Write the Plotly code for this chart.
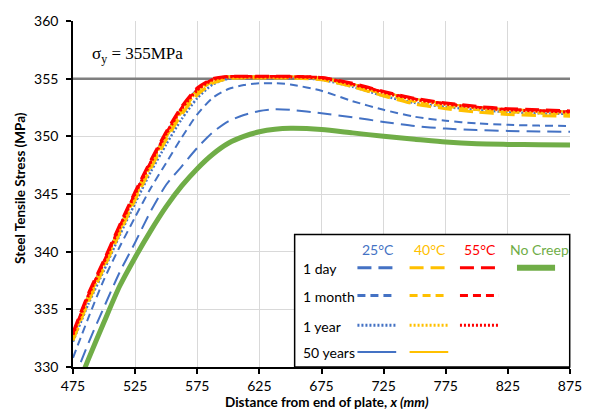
import plotly.graph_objects as go

# ---------------- data ----------------
x_mm = [475, 487.5, 500, 512.5, 525, 537.5, 550, 562.5, 575, 587.5, 600, 612.5,
        625, 637.5, 650, 675, 700, 725, 750, 775, 800, 825, 850, 875]

blue_1d = [328.7, 332.1, 335.2, 338.2, 340.8, 343.5, 345.8, 347.4, 349.0, 350.35, 351.3, 351.85,
           352.2, 352.35, 352.3, 352.0, 351.65, 351.25, 350.9, 350.67, 350.54, 350.47, 350.42, 350.4]
blue_1m = [330.8, 334.3, 337.6, 340.4, 343.0, 345.5, 347.7, 349.9, 351.9, 353.35, 354.1, 354.45,
           354.6, 354.6, 354.5, 353.95, 353.05, 352.3, 351.7, 351.35, 351.12, 351.0, 350.93, 350.9]
blue_1y = [332.2, 335.5, 338.4, 341.4, 344.2, 346.9, 349.3, 351.5, 353.3, 354.5, 355.0, 355.1,
           355.1, 355.1, 355.1, 354.9, 354.3, 353.5, 352.9, 352.55, 352.3, 352.1, 352.0, 351.95]
blue_50y = [332.9, 336.3, 339.2, 342.2, 345.1, 347.8, 350.3, 352.5, 354.1, 354.95, 355.2, 355.2,
            355.2, 355.2, 355.2, 355.1, 354.55, 353.85, 353.25, 352.85, 352.55, 352.35, 352.25, 352.15]

yellow_1d = [332.3, 335.7, 338.6, 341.6, 344.5, 347.2, 349.7, 351.9, 353.6, 354.6, 355.0, 355.05,
             355.05, 355.05, 355.05, 354.9, 354.3, 353.5, 352.8, 352.4, 352.1, 351.9, 351.8, 351.75]
yellow_1m = [332.5, 335.9, 338.8, 341.8, 344.7, 347.4, 349.9, 352.1, 353.8, 354.75, 355.1, 355.1,
             355.1, 355.1, 355.1, 355.0, 354.4, 353.65, 353.0, 352.6, 352.3, 352.1, 352.0, 351.95]
yellow_1y = [332.7, 336.1, 339.0, 342.0, 344.9, 347.6, 350.1, 352.3, 353.9, 354.85, 355.15, 355.15,
             355.15, 355.15, 355.15, 355.05, 354.5, 353.75, 353.15, 352.75, 352.45, 352.25, 352.15, 352.05]
yellow_50y = [332.8, 336.2, 339.1, 342.1, 345.0, 347.7, 350.2, 352.4, 354.0, 354.9, 355.2, 355.2,
              355.2, 355.2, 355.2, 355.1, 354.55, 353.85, 353.25, 352.85, 352.55, 352.35, 352.25, 352.15]

red_1d = [333.0, 336.4, 339.3, 342.3, 345.2, 347.9, 350.4, 352.6, 354.2, 355.0, 355.2, 355.2,
          355.2, 355.2, 355.2, 355.1, 354.6, 353.9, 353.3, 352.9, 352.6, 352.4, 352.3, 352.2]
red_1m = [332.9, 336.3, 339.2, 342.2, 345.1, 347.8, 350.3, 352.5, 354.1, 354.95, 355.2, 355.2,
          355.2, 355.2, 355.2, 355.1, 354.55, 353.85, 353.25, 352.85, 352.55, 352.35, 352.25, 352.15]
red_1y = [332.8, 336.2, 339.1, 342.1, 345.0, 347.7, 350.2, 352.4, 354.0, 354.9, 355.15, 355.15,
          355.15, 355.15, 355.15, 355.05, 354.5, 353.8, 353.2, 352.8, 352.5, 352.3, 352.2, 352.1]

no_creep = [327.3, 330.7, 333.9, 337.0, 339.5, 341.8, 343.9, 345.7, 347.2, 348.45, 349.4, 350.0,
            350.4, 350.62, 350.7, 350.6, 350.3, 350.0, 349.75, 349.5, 349.35, 349.3, 349.27, 349.25]

yield_stress = 355
x_range = [475, 875]
y_range = [330, 360]
temps = ["25°C", "40°C", "55°C", "No Creep"]
durations = ["1 day", "1 month", "1 year", "50 years"]

# ---------------- styles ----------------
BLUE, YEL, RED, GRN = "#4472C4", "#FFC000", "#FF0000", "#70AD47"
LONG, SHORT, DOT = "14px,7px", "8px,5px", "2px,2px"
FONT = "Lato"

series = [
    (no_creep, GRN, "solid", 5),
    (blue_50y, BLUE, "solid", 1.5),
    (blue_1d, BLUE, LONG, 2),
    (blue_1m, BLUE, SHORT, 2),
    (blue_1y, BLUE, DOT, 2.5),
    (yellow_50y, YEL, "solid", 2),
    (yellow_1d, YEL, LONG, 3),
    (yellow_1m, YEL, SHORT, 2.5),
    (yellow_1y, YEL, DOT, 3),
    (red_1m, RED, SHORT, 2.5),
    (red_1y, RED, DOT, 3),
    (red_1d, RED, LONG, 3),
]

fig = go.Figure()
fig.add_trace(go.Scatter(x=x_range, y=[yield_stress, yield_stress], mode="lines",
                         line=dict(color="#7F7F7F", width=2.5), showlegend=False,
                         hoverinfo="skip"))
for ys, col, dash, w in series:
    fig.add_trace(go.Scatter(x=x_mm, y=ys, mode="lines",
                             line=dict(color=col, dash=dash, width=w, shape="spline",
                                       smoothing=0.7),
                             showlegend=False))

W, H = 594, 416
L, R, T, B = 73, 12, 14, 49
PW, PH = W - L - R, H - T - B


def px(xp):
    return (xp - L) / PW


def py(yp):
    return (H - B - yp) / PH


shapes = []
annotations = []

# legend box
shapes.append(dict(type="rect", xref="paper", yref="paper", x0=px(300), x1=px(581.7),
                   y0=py(367), y1=py(231.7), fillcolor="white",
                   line=dict(color="black", width=1.5), layer="above"))

col_x = [(364.3, 404), (417.7, 457.3), (469.3, 509.3), (527.7, 566.7)]
col_c = [385, 438.3, 490, 551]
col_col = [BLUE, YEL, RED, GRN]
row_y = [265.7, 294, 324.3, 351.7]
row_dash = [LONG, SHORT, DOT, "solid"]
row_w = [3, 3, 3, 2]

for t, c, cc in zip(temps, col_c, col_col):
    annotations.append(dict(xref="paper", yref="paper", x=px(c), y=py(246.7), text=t,
                            showarrow=False, xanchor="center", yanchor="middle",
                            font=dict(family=FONT, size=14, color=cc)))
for d, yy in zip(durations, row_y):
    annotations.append(dict(xref="paper", yref="paper", x=px(306), y=py(yy + 1), text=d,
                            showarrow=False, xanchor="left", yanchor="middle",
                            font=dict(family=FONT, size=14, color="black")))

# legend samples: 25°C all rows, 40°C all rows, 55°C three rows, no creep row 1
cells = []
for ri in range(4):
    cells.append((0, ri))
    cells.append((1, ri))
    if ri < 3:
        cells.append((2, ri))
cells.append((3, 0))
for ci, ri in cells:
    x0, x1 = col_x[ci]
    if ci == 3:
        dash, w = "solid", 6
    else:
        dash, w = row_dash[ri], row_w[ri]
    shapes.append(dict(type="line", xref="paper", yref="paper", x0=px(x0), x1=px(x1),
                       y0=py(row_y[ri]), y1=py(row_y[ri]), layer="above",
                       line=dict(color=col_col[ci], width=w, dash=dash)))

annotations.append(dict(xref="paper", yref="paper", x=px(139.5), y=py(49),
                        text="σ<sub>y</sub> = 355MPa", showarrow=False,
                        xanchor="center", yanchor="middle",
                        font=dict(family="Liberation Serif", size=17, color="black")))

# axis titles
annotations.append(dict(xref="paper", yref="paper", x=px(333.5), y=py(403),
                        text="<b>Distance from end of plate, <i>x (mm)</i></b>",
                        showarrow=False, xanchor="center", yanchor="middle",
                        font=dict(family=FONT, size=13.5, color="black")))
annotations.append(dict(xref="paper", yref="paper", x=px(18), y=py(184),
                        text="<b>Steel Tensile Stress (MPa)</b>", textangle=-90,
                        showarrow=False, xanchor="center", yanchor="middle",
                        font=dict(family=FONT, size=13.5, color="black")))

fig.update_layout(
    width=W, height=H,
    margin=dict(l=L, r=R, t=T, b=B),
    paper_bgcolor="white", plot_bgcolor="white",
    shapes=shapes, annotations=annotations,
    showlegend=False,
    xaxis=dict(range=x_range, dtick=50, tick0=475, showgrid=True, gridcolor="#D9D9D9",
               gridwidth=1, zeroline=False, showline=True, linecolor="black", linewidth=1.5,
               ticks="outside", ticklen=5, tickcolor="black", tickwidth=1.5,
               ticklabelstandoff=0, ticklabeloverflow="allow",
               tickfont=dict(family=FONT, size=14, color="black")),
    yaxis=dict(range=y_range, dtick=5, tick0=330, showgrid=True, gridcolor="#D9D9D9",
               gridwidth=1, zeroline=False, showline=True, linecolor="black", linewidth=1.5,
               ticks="outside", ticklen=5, tickcolor="black", tickwidth=1.5,
               ticklabelstandoff=5,
               tickfont=dict(family=FONT, size=14, color="black")),
)

fig.write_html("out.html")
